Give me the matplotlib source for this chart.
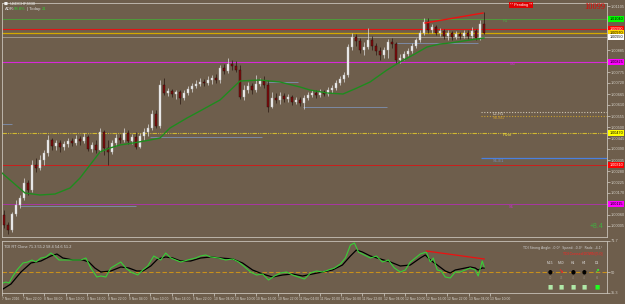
import numpy as np
import matplotlib
matplotlib.use('Agg')
import matplotlib.pyplot as plt
import matplotlib.transforms as mtransforms

plt.rcParams['font.family'] = ['Liberation Sans', 'DejaVu Sans']

# USDCHF M30 candles (open = previous close)
first_open = 1.00060
closes = [
    1.00010, 0.99985, 1.00065, 1.00110, 1.00145, 1.00220, 1.00185, 1.00310, 1.00295, 1.00335,
    1.00370, 1.00435, 1.00405, 1.00420, 1.00400, 1.00415, 1.00430, 1.00420, 1.00440, 1.00430,
    1.00450, 1.00390, 1.00410, 1.00385, 1.00475, 1.00395, 1.00375, 1.00420, 1.00445, 1.00435,
    1.00470, 1.00430, 1.00450, 1.00400, 1.00455, 1.00475, 1.00495, 1.00565, 1.00505, 1.00710,
    1.00670, 1.00680, 1.00665, 1.00675, 1.00645, 1.00670, 1.00690, 1.00705, 1.00715, 1.00725,
    1.00720, 1.00735, 1.00745, 1.00735, 1.00795, 1.00780, 1.00815, 1.00805, 1.00785, 1.00650,
    1.00685, 1.00705, 1.00685, 1.00715, 1.00730, 1.00710, 1.00600, 1.00645, 1.00635, 1.00655,
    1.00640, 1.00650, 1.00625, 1.00635, 1.00620, 1.00645, 1.00660, 1.00670, 1.00660, 1.00675,
    1.00665, 1.00685, 1.00695, 1.00720, 1.00740, 1.00760, 1.00900, 1.00950, 1.00930, 1.00885,
    1.00900, 1.00935, 1.00905, 1.00880, 1.00860, 1.00885, 1.00925, 1.00915, 1.00835, 1.00845,
    1.00865, 1.00880, 1.00905, 1.00935, 1.00970, 1.01025, 1.00985, 1.01000, 1.00970, 1.00980,
    1.00955, 1.00970, 1.00950, 1.00965, 1.00955, 1.00970, 1.00955, 1.00980, 1.00945, 1.01015,
    1.00970]
highs = [
    1.00085, 1.00025, 1.00075, 1.00135, 1.00160, 1.00245, 1.00235, 1.00335, 1.00345, 1.00360,
    1.00385, 1.00460, 1.00445, 1.00435, 1.00435, 1.00430, 1.00445, 1.00445, 1.00460, 1.00455,
    1.00470, 1.00460, 1.00425, 1.00435, 1.00495, 1.00485, 1.00435, 1.00435, 1.00465, 1.00465,
    1.00495, 1.00485, 1.00465, 1.00475, 1.00470, 1.00495, 1.00515, 1.00585, 1.00585, 1.00735,
    1.00745, 1.00695, 1.00690, 1.00685, 1.00685, 1.00685, 1.00705, 1.00720, 1.00735, 1.00745,
    1.00740, 1.00755, 1.00760, 1.00765, 1.00810, 1.00815, 1.00845, 1.00835, 1.00830, 1.00810,
    1.00710, 1.00725, 1.00720, 1.00760, 1.00745, 1.00755, 1.00735, 1.00675, 1.00670, 1.00675,
    1.00670, 1.00665, 1.00660, 1.00650, 1.00650, 1.00660, 1.00675, 1.00685, 1.00685, 1.00690,
    1.00685, 1.00700, 1.00710, 1.00735, 1.00755, 1.00775, 1.00915, 1.00970, 1.00965, 1.00945,
    1.00925, 1.00995, 1.00955, 1.00920, 1.00900, 1.00900, 1.00940, 1.00945, 1.00925, 1.00865,
    1.00880, 1.00895, 1.00920, 1.00945, 1.00985, 1.01045, 1.01045, 1.01015, 1.01010, 1.00995,
    1.00990, 1.00985, 1.00980, 1.00980, 1.00975, 1.00985, 1.00985, 1.01000, 1.00990, 1.01035,
    1.01075]
lows = [
    0.99995, 0.99965, 0.99975, 1.00055, 1.00095, 1.00135, 1.00160, 1.00175, 1.00275, 1.00285,
    1.00310, 1.00355, 1.00385, 1.00385, 1.00375, 1.00385, 1.00400, 1.00405, 1.00410, 1.00410,
    1.00420, 1.00380, 1.00375, 1.00370, 1.00375, 1.00360, 1.00310, 1.00365, 1.00405, 1.00420,
    1.00425, 1.00415, 1.00415, 1.00390, 1.00395, 1.00435, 1.00455, 1.00485, 1.00495, 1.00495,
    1.00660, 1.00655, 1.00650, 1.00640, 1.00615, 1.00635, 1.00660, 1.00675, 1.00695, 1.00705,
    1.00705, 1.00710, 1.00715, 1.00720, 1.00720, 1.00765, 1.00770, 1.00785, 1.00775, 1.00640,
    1.00635, 1.00670, 1.00665, 1.00675, 1.00705, 1.00695, 1.00575, 1.00595, 1.00620, 1.00615,
    1.00625, 1.00625, 1.00610, 1.00615, 1.00605, 1.00590, 1.00635, 1.00650, 1.00645, 1.00650,
    1.00655, 1.00655, 1.00670, 1.00685, 1.00710, 1.00725, 1.00750, 1.00885, 1.00905, 1.00870,
    1.00860, 1.00890, 1.00885, 1.00860, 1.00835, 1.00845, 1.00845, 1.00895, 1.00820, 1.00820,
    1.00835, 1.00855, 1.00870, 1.00895, 1.00925, 1.00960, 1.00970, 1.00970, 1.00960, 1.00955,
    1.00940, 1.00935, 1.00935, 1.00940, 1.00940, 1.00945, 1.00940, 1.00945, 1.00935, 1.00935,
    1.00965]

# green moving average (bar position, price)
ma_bar = [-0.5, 5.25, 9, 12.75, 16.5, 19, 21.5, 24, 26.5, 29, 32.25, 36.5, 39, 41.5, 45.75,
          49, 54, 59, 64, 69, 74, 76.5, 80.75, 84.75, 88.25, 91.5, 95.75, 99, 102.25,
          105.75, 109, 111.5, 116.5, 120]
ma_val = [1.00270, 1.00170, 1.00160, 1.00165, 1.00195, 1.00245, 1.00310, 1.00375, 1.00395,
          1.00410, 1.00420, 1.00435, 1.00445, 1.00495, 1.00545, 1.00580, 1.00635, 1.00730,
          1.00735, 1.00725, 1.00700, 1.00685, 1.00670, 1.00665, 1.00695, 1.00725, 1.00785,
          1.00825, 1.00860, 1.00900, 1.00915, 1.00920, 1.00935, 1.00945]

# full width levels
level_price = [1.01040, 1.00990, 1.00970, 1.00950, 1.00825, 1.00470, 1.00310, 1.00115]
level_tags = ['1.01040', '1.00990', '1.00970', '1.00950', '1.00825', '1.00470', '1.00310', '1.00115']

# pivot zone lines drawn only on the right
zone_price = [1.00575, 1.00555, 1.00345]
zone_names = ['L2-H1', 'S0-M1', 'S1-E1']

# short swing level lines
swing_start = [-0.5, 4, 36.5, 65.75, 74.75, 98.25]
swing_end = [2, 33, 64.5, 73.5, 95.75, 118.5]
swing_price = [1.00515, 1.00105, 1.00450, 1.00725, 1.00600, 1.00920]

# divergence line on price
div_bar = [105.25, 119.75]
div_price = [1.01020, 1.01070]

# TDI sub-window
tdi_green_bar = [-0.5, 0.25, 1, 2, 3, 4.5, 5.75, 6.75, 7.75, 9, 10.25, 11.5, 12.5, 13.5, 15.25,
                 17, 19, 20.25, 21.5, 23, 24, 25.25, 26.5, 27.75, 29, 30.25, 31.5, 33.25, 34.5,
                 35.75, 37.25, 39, 40.25, 41.5, 42.75, 44, 45.75, 47.75, 49, 50.25, 51.5, 53.5,
                 55.25, 57, 58.5, 59.75, 61.5, 63, 64.5, 66, 67.5, 69, 70.5, 72, 73.5, 75, 76.5,
                 78, 79.5, 81, 82.5, 84, 85.25, 86.5, 87.5, 88.5, 90, 91.5, 93, 94.5, 96, 97.5,
                 99, 100.25, 101.5, 102.75, 104, 105.5, 106.5, 107.25, 108.25, 109.25, 110.25,
                 111.5, 112.75, 114, 115.25, 116.5, 117.75, 118.5, 119.25, 119.5, 120]
tdi_green = [42.3, 43.0, 42.3, 47.2, 51.4, 56.3, 57.0, 58.4, 57.0, 59.8, 60.5, 63.3, 61.2, 58.4,
             58.4, 58.4, 58.4, 59.8, 52.8, 46.5, 47.2, 46.5, 52.8, 54.9, 57.0, 52.8, 50.0, 47.9,
             51.4, 54.2, 61.2, 58.4, 63.3, 59.8, 58.4, 57.0, 58.4, 59.8, 61.2, 61.9, 60.5, 59.8,
             58.4, 59.1, 57.0, 54.2, 50.0, 47.9, 48.6, 44.4, 47.2, 49.3, 50.0, 47.9, 46.5, 45.1,
             49.3, 50.7, 50.0, 51.4, 52.8, 55.6, 59.8, 68.9, 70.3, 64.0, 61.9, 59.8, 61.2, 57.0,
             58.4, 52.8, 50.0, 51.4, 57.0, 59.8, 62.6, 64.0, 57.0, 59.8, 51.4, 50.7, 46.5, 45.8,
             50.0, 50.0, 51.4, 52.8, 51.4, 47.2, 54.9, 57.7, 53.5]
tdi_black_bar = [-0.5, 1.5, 4, 6.5, 9, 11.5, 13, 14.5, 17, 19.5, 21, 22.5, 24, 26.5, 29, 31, 33,
                 34.5, 36.5, 38.25, 40.25, 42, 44, 46.5, 49, 51.5, 54, 57, 59.5, 62, 64.5, 67,
                 69.5, 72, 74.5, 77, 79.5, 82, 84.5, 86.5, 88, 89.5, 91.5, 94, 96.5, 99, 101.5,
                 104, 105.25, 106.5, 108.25, 110.25, 111.5, 112.75, 115.25, 116.5, 117.75,
                 118.5, 119.5, 120]
tdi_black = [38.1, 41.6, 50.0, 56.3, 57.7, 61.2, 62.6, 59.8, 58.4, 58.4, 57.0, 52.8, 50.0, 50.7,
             53.5, 52.8, 50.7, 50.7, 54.2, 59.1, 60.5, 59.8, 57.7, 57.7, 59.8, 60.5, 59.8, 59.1,
             56.3, 51.4, 48.6, 46.5, 47.9, 48.6, 47.2, 48.6, 50.0, 51.4, 54.9, 61.2, 65.4, 64.0,
             61.2, 59.1, 57.0, 54.2, 54.9, 59.8, 61.9, 58.4, 54.9, 50.7, 49.3, 51.4, 52.8, 53.5,
             52.8, 51.4, 52.8, 52.8]
tdi_div_bar = [105.5, 120]
tdi_div_val = [64.7, 59.1]

tf_names = ['M15', 'M30', 'H1', 'H4', 'D1']
tf_arrow = ['\u25cf', '\u2198', '\u25cf', '\u25cf', '\u2197']
tf_color = ['#000000', '#ff2020', '#000000', '#000000', '#30ff30']
tf_value = ['70', '73', '4', '4', '66']
tf_box = ['#b0e8a8', '#b0e8a8', '#b0e8a8', '#b0e8a8', '#20ff20']

time_labels = ['7 Nov 2016', '7 Nov 22:00', '8 Nov 04:00', '8 Nov 10:00', '8 Nov 16:00',
               '8 Nov 22:00', '9 Nov 04:00', '9 Nov 10:00', '9 Nov 16:00', '9 Nov 22:00',
               '10 Nov 04:00', '10 Nov 10:00', '10 Nov 16:00', '10 Nov 22:00', '11 Nov 04:00',
               '11 Nov 10:00', '11 Nov 16:00', '11 Nov 22:00', '12 Nov 04:00', '12 Nov 10:00',
               '12 Nov 16:00', '12 Nov 22:00', '13 Nov 04:00', '13 Nov 10:00']

BG = '#6e5e4c'
FG = '#d4d0c8'
W, H = 625, 304

fig = plt.figure(figsize=(W / 100, H / 100), dpi=100, facecolor=BG)
ax = fig.add_axes([2 / W, 67 / H, 605 / W, 234 / H], facecolor=BG)
ax2 = fig.add_axes([2 / W, 11 / H, 605 / W, 52 / H], facecolor=BG)

for a in (ax, ax2):
    a.set_xlim(-0.5, 150.75)
    for s in a.spines.values():
        s.set_color('#c8c2b8')
        s.set_linewidth(0.6)

# ---- main price window ----
ax.set_ylim(0.99950, 1.01120)

c = np.array(closes)
o = np.array([first_open] + closes[:-1])
hi = np.array(highs)
lo = np.array(lows)
bars = np.arange(len(c))
up = c >= o

ax.vlines(bars[up], lo[up], hi[up], color='#e0e0e0', lw=0.5, zorder=3)
ax.vlines(bars[~up], lo[~up], hi[~up], color='#2a1812', lw=0.5, zorder=3)
body = np.maximum(np.abs(c - o), 0.00002)
ax.bar(bars, body, bottom=np.minimum(o, c), width=0.72,
       color=np.where(up, '#f4f4f4', '#7e0c0c'),
       edgecolor=np.where(up, '#bdbdbd', '#2a0808'), linewidth=0.3, zorder=4)

ax.plot(ma_bar, ma_val, color='#1e8c1e', lw=1.0, zorder=5)

lvl_style = [('#4f9a3c', '-', 0.7), ('#e01414', '-', 0.8), ('#d4a800', '-', 0.9),
             ('#a8a094', '-', 0.6), ('#d828d8', '-', 0.8), ('#d0b830', (0, (4, 1, 1, 1, 1, 1)), 0.8),
             ('#d81414', '-', 0.6), ('#b030b0', '-', 0.6)]
for p, (col, ls, lw) in zip(level_price, lvl_style):
    ax.axhline(p, color=col, ls=ls, lw=lw, zorder=2)

zone_style = [('#cfc6b4', (0, (1, 1.5)), 0.8), ('#c8a030', (0, (1, 1.5)), 0.8), ('#4a80e0', '-', 0.9)]
for p, (col, ls, lw) in zip(zone_price, zone_style):
    ax.hlines(p, 119.25, 150.75, color=col, ls=ls, lw=lw, zorder=2)

ax.hlines(swing_price, swing_start, swing_end, color='#7c8aa4', lw=0.7, zorder=2)
ax.plot(div_bar, div_price, color='#ee1010', lw=1.0, zorder=6)

# level names
lab_kw = dict(fontsize=3, va='center', ha='left', zorder=7)
ax.text(124.75, 1.01028, 'R1', color='#48b040', **lab_kw)
ax.text(126.5, 1.00813, 'M3', color='#d030d0', **lab_kw)
ax.text(122.25, 1.00565, zone_names[0], color='#d8d0c0', **lab_kw)
ax.text(122.25, 1.00545, zone_names[1], color='#d0a030', **lab_kw)
ax.text(124.75, 1.00460, 'Pivot', color='#f0e040', **lab_kw)
ax.text(122.25, 1.00330, zone_names[2], color='#7890c0', **lab_kw)
ax.text(126.25, 1.00102, 'S1', color='#d030d0', **lab_kw)

# right price axis; skip scale labels hidden behind the level tags
ax.yaxis.tick_right()
ticks = np.round(1.01105 - 0.00055 * np.arange(21), 5)
ax.set_yticks(ticks)
ax.set_yticklabels(['' if min(abs(t - p) for p in level_price) < 0.00018 else '%.5f' % t
                    for t in ticks])
ax.tick_params(axis='y', colors=FG, labelsize=2.8, length=2, width=0.5, pad=1)
ax.set_xticks([])

trans = mtransforms.blended_transform_factory(ax.transAxes, ax.transData)
tag_fc = ['#00ff00', '#ff0000', '#ffd700', '#ffffff', '#ff00ff', '#ffff00', '#ff0000', '#ff00ff']
tag_tc = ['#000000', '#ffffff', '#000000', '#000000', '#000000', '#000000', '#ffffff', '#000000']
for p, t, fc, tc in zip(level_price, level_tags, tag_fc, tag_tc):
    ax.text(1.004, p, t, transform=trans, fontsize=2.7, color=tc, va='center', ha='left',
            bbox=dict(boxstyle='square,pad=0.25', fc=fc, ec='none'), clip_on=False, zorder=8)

# chart header texts
fig.text(4 / W, 1 - 3.5 / H, '\u25a0', color='#f0f0f0', fontsize=3, va='center',
         family='DejaVu Sans')
fig.text(10 / W, 1 - 3.5 / H, 'USDCHF,M30', color='#f0f0f0', fontsize=3, va='center')
fig.text(5 / W, 1 - 9 / H, 'ADR:', color='#e0e0e0', fontsize=3, va='center')
fig.text(14 / W, 1 - 9 / H, '98.8%', color='#30d030', fontsize=3, va='center')
fig.text(27 / W, 1 - 9 / H, '| Today:', color='#e0e0e0', fontsize=3, va='center')
fig.text(42 / W, 1 - 9 / H, '21', color='#30d030', fontsize=3, va='center')

fig.text(521 / W, 1 - 5 / H, '** Pending **', color='#ffffff', fontsize=2.8, ha='center',
         va='center', bbox=dict(boxstyle='square,pad=0.2', fc='#e00000', ec='none'))
fig.text(605 / W, 1 - 7 / H, '10099', color='#e80000', fontsize=6, ha='right', va='center',
         family='Liberation Serif')
fig.text(597 / W, 1 - 226 / H, '+8.4', color='#40b040', fontsize=5, ha='center', va='center')

# ---- TDI window ----
ax2.set_ylim(35.3, 71.7)
ax2.axhline(50, color='#c8901c', ls=(0, (4, 2)), lw=0.8)
ax2.plot(tdi_black_bar, tdi_black, color='#000000', lw=0.9)
ax2.plot(tdi_green_bar, tdi_green, color='#38d038', lw=0.8)
ax2.plot(tdi_div_bar, tdi_div_val, color='#ee1010', lw=0.9)

ax2.text(0.003, 0.93, 'TDI RT Clone 71.3 55.2 58.4 54.6 51.2', transform=ax2.transAxes,
         fontsize=2.8, color='#d8d8d8', va='top')
ax2.text(149.5, 66.8, 'TDI Strong Angle: -0.0\u00b0  Speed: -0.0\u00b0  Rads: -4.1\u00b0',
         fontsize=2.3, color='#d0d0d0', ha='right', va='center', family='DejaVu Sans')
ax2.text(149.5, 62.6, 'TDI Crossed DOWN [5,0]', fontsize=2.5, color='#ff2020',
         ha='right', va='center')

tf_x = [136.5, 139.25, 142.25, 145, 148.25]
for x, nm, ar, col, val, bx in zip(tf_x, tf_names, tf_arrow, tf_color, tf_value, tf_box):
    ax2.text(x, 56.3, nm, fontsize=2.4, color='#e0e0e0', ha='center', va='center')
    ax2.text(x, 50.0, ar, fontsize=4, color=col, ha='center', va='center', fontweight='bold',
             family='DejaVu Sans')
    ax2.text(x, 45.8, val, fontsize=2.2, color='#9a9080', ha='center', va='center')
    ax2.text(x, 39.5, '\u25a0', fontsize=4, color=bx, ha='center', va='center',
             family='DejaVu Sans')

ax2.yaxis.tick_right()
ax2.set_yticks([35.3, 50, 71.7])
ax2.set_yticklabels(['35.3', '50', '71.7'])
ax2.tick_params(axis='y', colors=FG, labelsize=2.8, length=2, width=0.5, pad=1)

ax2.set_xticks(-0.75 + 5.31 * np.arange(len(time_labels)))
ax2.set_xticklabels(time_labels, ha='left')
ax2.tick_params(axis='x', colors=FG, labelsize=2.4, length=2, width=0.5, pad=1)

fig.savefig('out.png', dpi=100, facecolor=BG)
